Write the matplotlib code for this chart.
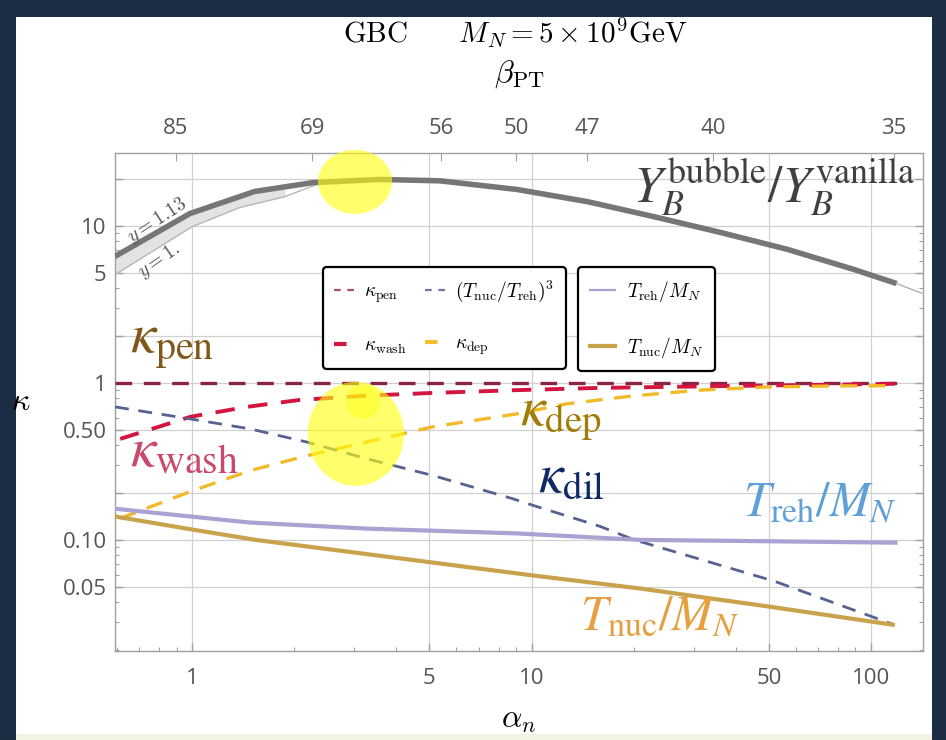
import numpy as np
import matplotlib
matplotlib.use("Agg")
import matplotlib.pyplot as plt
from matplotlib.lines import Line2D
from matplotlib.patches import Ellipse, Rectangle
from matplotlib.ticker import FixedLocator, NullLocator

plt.rcParams["mathtext.fontset"] = "cm"
plt.rcParams["font.family"] = ["Open Sans", "DejaVu Sans"]

# ---- data (alpha_n on x, kappa on y) ----
yb_alpha = [0.593, 0.985, 1.53, 2.27, 3.58, 5.37, 9.05, 14.6, 22.8, 36.0, 56.7, 88.7, 119.0]
yb_ratio = [6.4, 12.0, 16.6, 18.9, 19.8, 19.4, 17.1, 14.3, 11.5, 9.1, 7.1, 5.3, 4.3]
yb_tail_alpha = [119.0, 141.0]
yb_tail_ratio = [4.3, 3.73]

# y = 1 edge of the band (y = 1.13 is the main curve)
band_alpha = [0.593, 1.0, 1.38, 1.88, 2.33, 2.6]
band_lower = [4.9, 9.9, 13.1, 15.4, 18.4, 19.2]
band_upper = [6.4, 12.1, 15.2, 17.7]

pen_alpha = [0.593, 119.0]
kappa_pen = [1.0, 1.0]

wash_alpha = [0.614, 0.987, 1.45, 2.08, 3.27, 5.13, 9.05, 15.9, 39.0, 108.0, 119.0]
kappa_wash = [0.44, 0.608, 0.704, 0.78, 0.83, 0.864, 0.90, 0.93, 0.957, 0.985, 0.99]

dep_alpha = [0.614, 0.987, 1.48, 2.18, 3.27, 5.13, 9.05, 12.7, 19.9, 31.3, 49.3, 77.5, 111.0]
kappa_dep = [0.137, 0.203, 0.276, 0.344, 0.42, 0.526, 0.635, 0.736, 0.827, 0.90, 0.943, 0.957, 0.96]

dil_alpha = [0.593, 0.987, 1.48, 2.18, 3.27, 5.13, 8.8, 10.1, 15.9, 20.1, 52.0, 116.0]
kappa_dil = [0.704, 0.59, 0.51, 0.42, 0.329, 0.257, 0.183, 0.166, 0.122, 0.10, 0.0545, 0.029]

treh_alpha = [0.593, 0.987, 1.48, 3.27, 9.05, 20.9, 50.0, 118.0]
treh_mn = [0.158, 0.141, 0.129, 0.118, 0.110, 0.100, 0.098, 0.096]

tnuc_alpha = [0.593, 0.987, 1.54, 4.8, 10.0, 20.9, 50.0, 116.0]
tnuc_mn = [0.141, 0.117, 0.100, 0.073, 0.0595, 0.049, 0.0376, 0.0288]

# beta_PT values on the top axis and the alpha_n where they sit
beta_alpha = [0.897, 2.257, 5.41, 9.0, 14.6, 34.2, 116.9]
beta_labels = ["85", "69", "56", "50", "47", "40", "35"]

x_major = [1, 5, 10, 50, 100]
y_major = [0.05, 0.1, 0.2, 0.5, 1, 2, 5, 10, 20]
y_major_labels = ["0.05", "0.10", "", "0.50", "1", "", "5", "10", ""]

fig = plt.figure(figsize=(9.46, 7.40), dpi=100, facecolor="#1c2c43")
fig.patches.append(Rectangle((16 / 946, 0), (932 - 16) / 946, (740 - 17) / 740,
                             transform=fig.transFigure, facecolor="white",
                             edgecolor="none", zorder=-2))
fig.patches.append(Rectangle((16 / 946, 0), (932 - 16) / 946, 6 / 740,
                             transform=fig.transFigure, facecolor="#f3f3e3",
                             edgecolor="none", zorder=-1))

ax = fig.add_axes([0.1216, 0.1203, 0.8541, 0.673])
ax.set_facecolor("white")
ax.set_xscale("log")
ax.set_yscale("log")
ax.set_xlim(0.593, 142.3)
ax.set_ylim(0.0196, 29.2)

grey = "#a0a0a0"
for s in ax.spines.values():
    s.set_color(grey)
    s.set_linewidth(1.0)

ax.xaxis.set_major_locator(FixedLocator(x_major))
ax.set_xticklabels([str(v) for v in x_major])
ax.xaxis.set_minor_locator(FixedLocator(
    [0.6, 0.7, 0.8, 0.9, 2, 3, 4, 6, 7, 8, 9, 20, 30, 40, 60, 70, 80, 90]))
ax.yaxis.set_major_locator(FixedLocator(y_major))
ax.set_yticklabels(y_major_labels)
ax.yaxis.set_minor_locator(FixedLocator(
    [0.02, 0.03, 0.04, 0.06, 0.07, 0.08, 0.09, 0.3, 0.4, 0.6, 0.7, 0.8, 0.9,
     3, 4, 6, 7, 8, 9]))
ax.tick_params(which="both", direction="in", color=grey, right=True, top=False)
ax.tick_params(which="major", length=6, width=1.0, labelsize=16,
               labelcolor="#555555")
ax.tick_params(which="minor", length=3, width=0.8)
ax.tick_params(axis="x", which="major", pad=12)
ax.tick_params(axis="y", which="major", pad=6)
ax.grid(True, which="major", color="#d0d0d0", linewidth=0.9)
ax.set_axisbelow(True)

# top axis: beta_PT
ax2 = ax.twiny()
ax2.set_xscale("log")
ax2.set_xlim(ax.get_xlim())
ax2.xaxis.set_major_locator(FixedLocator(beta_alpha))
ax2.set_xticklabels(beta_labels)
ax2.xaxis.set_minor_locator(NullLocator())
ax2.tick_params(direction="in", length=6, color=grey, labelsize=16,
                labelcolor="#555555", pad=10)
for s in ax2.spines.values():
    s.set_visible(False)
ax2.set_xlabel(r"$\beta_{\rm PT}$", fontsize=23, labelpad=26)

# bubble / vanilla ratio with the y band
ax.fill_between(band_alpha[:4], band_lower[:4], band_upper, color="#e3e3e3",
                linewidth=0, zorder=2)
ax.plot(band_alpha, band_lower, color="#b8b8b8", lw=1.0, zorder=2)
ax.plot(yb_alpha, yb_ratio, color="#767676", lw=4, solid_capstyle="butt", zorder=3)
ax.plot(yb_tail_alpha, yb_tail_ratio, color="#b0b0b0", lw=1.0, zorder=3)

# kappa factors
dash = (5, 3.5)
ax.plot(pen_alpha, kappa_pen, color="#8a2446", lw=2.4, dashes=dash, zorder=4)
ax.plot(wash_alpha, kappa_wash, color="#d3153f", lw=2.8, dashes=dash, zorder=4)
ax.plot(dep_alpha, kappa_dep, color="#f2b928", lw=2.4, dashes=dash, zorder=4)
ax.plot(dil_alpha, kappa_dil, color="#56628f", lw=2.0, dashes=dash, zorder=4)
ax.plot(treh_alpha, treh_mn, color="#aaa2d2", lw=3.0, zorder=4)
ax.plot(tnuc_alpha, tnuc_mn, color="#c9a24c", lw=3.0, zorder=4)

# band edge labels
ax.text(0.79, 10.9, r"$y = 1.13$", fontsize=14, rotation=33, color="#555555",
        ha="center", va="center")
ax.text(0.80, 6.0, r"$y = 1.$", fontsize=14, rotation=35, color="#555555",
        ha="center", va="center")

# legends
h_pen = Line2D([], [], color="#a5506a", lw=1.6, dashes=(3, 3))
h_dil = Line2D([], [], color="#6a78a5", lw=1.6, dashes=(3, 3))
h_wash = Line2D([], [], color="#d3153f", lw=3.0, dashes=(3, 3))
h_dep = Line2D([], [], color="#f2c030", lw=3.0, dashes=(3, 3))
leg1 = ax.legend([h_pen, h_wash, h_dil, h_dep],
                 [r"$\kappa_{\rm pen}$", r"$\kappa_{\rm wash}$",
                  r"$(T_{\rm nuc}/T_{\rm reh})^3$", r"$\kappa_{\rm dep}$"],
                 ncol=2, loc="upper left", bbox_to_anchor=(0.257, 0.771),
                 borderaxespad=0, fontsize=14, frameon=True, fancybox=True,
                 edgecolor="black", handlelength=1.15, labelspacing=1.6,
                 columnspacing=0.9, borderpad=0.6, handletextpad=0.4)
leg1.get_frame().set_linewidth(1.6)
leg1.get_frame().set_alpha(1)
ax.add_artist(leg1)

h_treh = Line2D([], [], color="#aaa2d2", lw=1.6)
h_tnuc = Line2D([], [], color="#c9a24c", lw=3.0)
leg2 = ax.legend([h_treh, h_tnuc],
                 [r"$T_{\rm reh}/M_N$", r"$T_{\rm nuc}/M_N$"],
                 loc="upper left", bbox_to_anchor=(0.573, 0.771),
                 borderaxespad=0, fontsize=14, frameon=True, fancybox=True,
                 edgecolor="black", handlelength=1.3, labelspacing=1.6,
                 borderpad=0.6, handletextpad=0.6)
leg2.get_frame().set_linewidth(1.6)
leg2.get_frame().set_alpha(1)

# curve names
big = dict(math_fontfamily="stix", ha="left", va="baseline", zorder=6)
ax.text(0.657, 1.53, r"$\kappa_{\rm pen}$", fontsize=41, color="#81561a", **big)
ax.text(0.657, 0.297, r"$\kappa_{\rm wash}$", fontsize=41, color="#c9486c", **big)
ax.text(9.25, 0.533, r"$\kappa_{\rm dep}$", fontsize=40, color="#a27c06", **big)
ax.text(10.45, 0.203, r"$\kappa_{\rm dil}$", fontsize=40, color="#0d2a66", **big)
ax.text(41.9, 0.143, r"$T_{\rm reh}/M_N$", fontsize=35, color="#5fa0d8", **big)
ax.text(13.9, 0.0266, r"$T_{\rm nuc}/M_N$", fontsize=35, color="#e6a040", **big)
ax.text(19.9, 14.1, r"$Y_B^{\rm bubble}/Y_B^{\rm vanilla}$", fontsize=37,
        color="#404040", **big)

# highlight marks
for (cx, cy, w, h, a) in [(0.297, 0.942, 0.0916, 0.1285, 0.62),
                          (0.298, 0.436, 0.119, 0.209, 0.62),
                          (0.307, 0.500, 0.042, 0.068, 0.45)]:
    ax.add_patch(Ellipse((cx, cy), w, h, transform=ax.transAxes,
                         facecolor="#ffff10", edgecolor="none", alpha=a,
                         zorder=5, clip_on=False))

ax.set_xlabel(r"$\alpha_n$", fontsize=23, labelpad=10)
ax.set_ylabel(r"$\kappa$", fontsize=23, rotation=0, labelpad=30, va="center")

fig.text(0.545, 0.955, r"$\mathrm{GBC}\qquad M_N = 5\times 10^9\mathrm{GeV}$",
         fontsize=21, ha="center", va="center")

fig.savefig("out.png", dpi=100, facecolor=fig.get_facecolor())
